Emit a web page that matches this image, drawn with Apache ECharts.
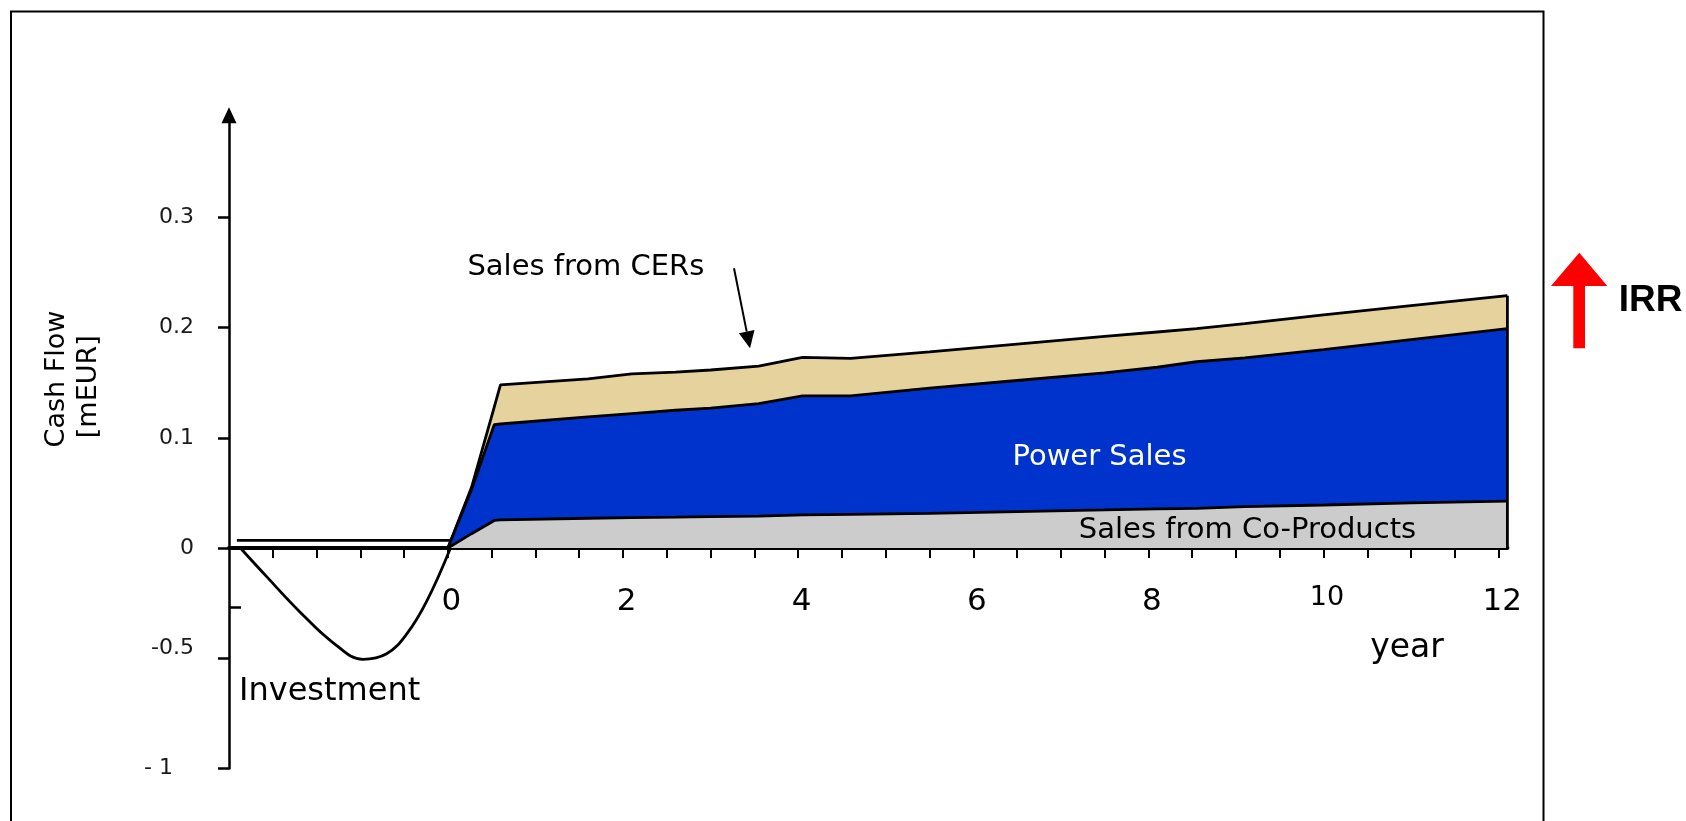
<!DOCTYPE html>
<html>
<head>
<meta charset="utf-8">
<script src="https://cdn.jsdelivr.net/npm/echarts@6/dist/echarts.min.js"></script>
<style>
html,body{margin:0;padding:0;background:#fff;}
#chart{width:1686px;height:821px;}
</style>
</head>
<body>
<div id="chart"></div>
<script>
// ---- data (mEUR, years) ----
const years       = [0, 0.27, 0.53, 0.6, 1.6, 2.1, 2.6, 3.0, 3.55, 4.05, 4.6, 5.5, 6.5, 7.5, 8.1, 8.55, 9.1, 10, 11, 12.1];
const coProducts  = [0, 0.013, 0.025, 0.0255, 0.027, 0.0275, 0.028, 0.0285, 0.029, 0.030, 0.0305, 0.0315, 0.033, 0.0345, 0.0355, 0.036, 0.0375, 0.039, 0.041, 0.0425];
const powerSales  = [0, 0.040, 0.087, 0.087, 0.092, 0.0945, 0.097, 0.0985, 0.102, 0.108, 0.1075, 0.1135, 0.119, 0.1245, 0.1285, 0.133, 0.135, 0.141, 0.148, 0.1565];
const cerSales    = [0, 0.002, 0.016, 0.0355, 0.0345, 0.036, 0.0345, 0.0345, 0.034, 0.035, 0.034, 0.033, 0.033, 0.033, 0.032, 0.030, 0.031, 0.0315, 0.031, 0.030];
const invYears    = [-2.37, -2.07, -1.69, -1.31, -0.97, -0.70, -0.47, -0.24, 0.03];
const invValues   = [0, -0.13, -0.29, -0.43, -0.505, -0.48, -0.39, -0.24, 0];
const baseYears   = [-2.41, 0.03];
const baseValues  = [0.007, 0.007];
const xLabelYears = [0, 2, 4, 6, 8, 10, 12];
const yTickReal   = [-1, -0.5, 0, 0.1, 0.2, 0.3];
const yTickText   = ['- 1', '-0.5', '0', '0.1', '0.2', '0.3'];
const extraTickReal = -0.27;

// broken y scale: negative part compressed 5x
const NEG = 0.2;
const ty = v => (v < 0 ? v * NEG : v);

const grayTop = coProducts.slice();
const blueTop = coProducts.map((v, i) => v + powerSales[i]);
const cerTop  = blueTop.map((v, i) => v + cerSales[i]);
const pts = arr => years.map((x, i) => [x, ty(arr[i])]);

const xTicks = [];
for (let v = -2; v <= 12.0001; v += 0.5) xTicks.push(Math.round(v * 10) / 10);

const FONT = 'DejaVu Sans';
const outline = { color: '#000', width: 2.8 };

const chart = echarts.init(document.getElementById('chart'), null, { renderer: 'canvas' });
chart.setOption({
  animation: false,
  backgroundColor: '#fff',
  grid: { left: 229, right: 178.6, top: 118.2, bottom: 52.6, containLabel: false, outerBoundsMode: 'none' },
  xAxis: {
    type: 'value', min: -2.5, max: 12.1, interval: 0.5,
    axisLine: { show: true, onZero: true, onZeroAxisIndex: 0, lineStyle: { color: '#000', width: 4 } },
    axisTick: { show: true, length: 10, lineStyle: { color: '#000', width: 2 }, customValues: xTicks },
    splitLine: { show: false },
    axisLabel: {
      customValues: xLabelYears, margin: -182, color: '#000', fontFamily: FONT, fontSize: 31,
      formatter: v => (v === 10 ? '{s|10}' : '{n|' + v + '}'),
      rich: {
        n: { fontSize: 31, lineHeight: 31, fontFamily: FONT, color: '#000', padding: [0, 0, 0, 7] },
        s: { fontSize: 27, lineHeight: 23, fontFamily: FONT, color: '#000', padding: [0, 0, 0, 7] }
      }
    }
  },
  yAxis: [{
    type: 'value', min: ty(-1), max: 0.39, position: 'left',
    axisLine: { show: true, onZero: false, symbol: ['none', 'triangle'], symbolSize: [15, 16], symbolOffset: [0, 3], lineStyle: { color: '#000', width: 2.5 } },
    axisTick: { show: true, length: 11, lineStyle: { color: '#000', width: 2.5 }, customValues: yTickReal.map(ty) },
    splitLine: { show: false },
    axisLabel: {
      customValues: yTickReal.map(ty), margin: 35, color: '#1a1a1a', fontFamily: FONT, fontSize: 22,
      formatter: v => {
        let idx = 0, best = 1e9;
        yTickReal.forEach((r, i) => { const d = Math.abs(ty(r) - v); if (d < best) { best = d; idx = i; } });
        const t = yTickText[idx];
        if (yTickReal[idx] === -0.5) return '{m|' + t + '}';
        if (yTickReal[idx] === -1) return '{k|' + t + '}';
        return '{d|' + t + '}';
      },
      rich: {
        d: { fontSize: 22, lineHeight: 22, fontFamily: FONT, color: '#1a1a1a' },
        m: { fontSize: 22, lineHeight: 22, fontFamily: FONT, color: '#1a1a1a', padding: [0, 0, 20, 0] },
        k: { fontSize: 22, lineHeight: 22, fontFamily: FONT, color: '#1a1a1a', padding: [0, 21, 0, 0] }
      }
    }
  }, {
    type: 'value', min: ty(-1), max: 0.39, position: 'left',
    axisLine: { show: false, onZero: false },
    axisTick: { show: true, inside: true, length: 12, lineStyle: { color: '#000', width: 2.5 }, customValues: [ty(extraTickReal)] },
    axisLabel: { show: false },
    splitLine: { show: false }
  }],
  series: [
    { name: 'Sales from CERs', type: 'line', z: 2, data: pts(cerTop), symbol: 'none', silent: true,
      lineStyle: outline, areaStyle: { color: '#E5D29C', opacity: 1, origin: 0 } },
    { name: 'Power Sales', type: 'line', z: 3, data: pts(blueTop), symbol: 'none', silent: true,
      lineStyle: outline, areaStyle: { color: '#0033CC', opacity: 1, origin: 0 } },
    { name: 'Sales from Co-Products', type: 'line', z: 4, data: pts(grayTop), symbol: 'none', silent: true,
      lineStyle: outline, areaStyle: { color: '#CCCCCC', opacity: 1, origin: 0 } },
    { name: 'edge', type: 'line', z: 5, symbol: 'none', silent: true, lineStyle: outline,
      data: [[years[years.length - 1], 0], [years[years.length - 1], ty(cerTop[cerTop.length - 1])]] },
    { name: 'Investment', type: 'line', z: 5, symbol: 'none', silent: true, smooth: 0.4, lineStyle: outline,
      data: invYears.map((x, i) => [x, ty(invValues[i])]) },
    { name: 'base', type: 'line', z: 5, symbol: 'none', silent: true, lineStyle: { color: '#000', width: 2.8 },
      data: baseYears.map((x, i) => [x, ty(baseValues[i])]) }
  ],
  graphic: [
    { type: 'rect', z: 100, shape: { x: 11, y: 11.5, width: 1532.5, height: 900 }, style: { fill: 'none', stroke: '#000', lineWidth: 2 } },
    { type: 'text', z: 100, x: 56.7, y: 379, rotation: Math.PI / 2,
      style: { text: 'Cash Flow', fontFamily: FONT, fontSize: 27, fill: '#000', align: 'center', verticalAlign: 'middle' } },
    { type: 'text', z: 100, x: 89, y: 386.7, rotation: Math.PI / 2,
      style: { text: '[mEUR]', fontFamily: FONT, fontSize: 27, fill: '#000', align: 'center', verticalAlign: 'middle' } },
    { type: 'text', z: 100, x: 585.9, y: 267,
      style: { text: 'Sales from CERs', fontFamily: FONT, fontSize: 29, fill: '#000', align: 'center', verticalAlign: 'middle' } },
    { type: 'line', z: 100, shape: { x1: 734, y1: 268.3, x2: 746.7, y2: 331.6 }, style: { stroke: '#000', lineWidth: 2 } },
    { type: 'polygon', z: 100, shape: { points: [[750, 348.3], [754.5, 330], [738.9, 333.2]] }, style: { fill: '#000' } },
    { type: 'text', z: 100, x: 1099.5, y: 457.5,
      style: { text: 'Power Sales', fontFamily: FONT, fontSize: 29, fill: '#fff', align: 'center', verticalAlign: 'middle' } },
    { type: 'text', z: 100, x: 1247.5, y: 530.5,
      style: { text: 'Sales from Co-Products', fontFamily: FONT, fontSize: 29, fill: '#000', align: 'center', verticalAlign: 'middle' } },
    { type: 'text', z: 100, x: 329.6, y: 691.3,
      style: { text: 'Investment', fontFamily: FONT, fontSize: 32, fill: '#000', align: 'center', verticalAlign: 'middle' } },
    { type: 'text', z: 100, x: 1407, y: 648,
      style: { text: 'year', fontFamily: FONT, fontSize: 33, fill: '#000', align: 'center', verticalAlign: 'middle' } },
    { type: 'polygon', z: 100, shape: { points: [[1579.3, 252.7], [1607.3, 286], [1585, 286], [1585, 348.3], [1573.3, 348.3], [1573.3, 286], [1551, 286]] },
      style: { fill: '#ff0000' } },
    { type: 'text', z: 100, x: 1650.7, y: 300.7,
      style: { text: 'IRR', fontFamily: 'Liberation Sans', fontWeight: 'bold', fontSize: 37, fill: '#000', align: 'center', verticalAlign: 'middle' } }
  ]
});
</script>
</body>
</html>
